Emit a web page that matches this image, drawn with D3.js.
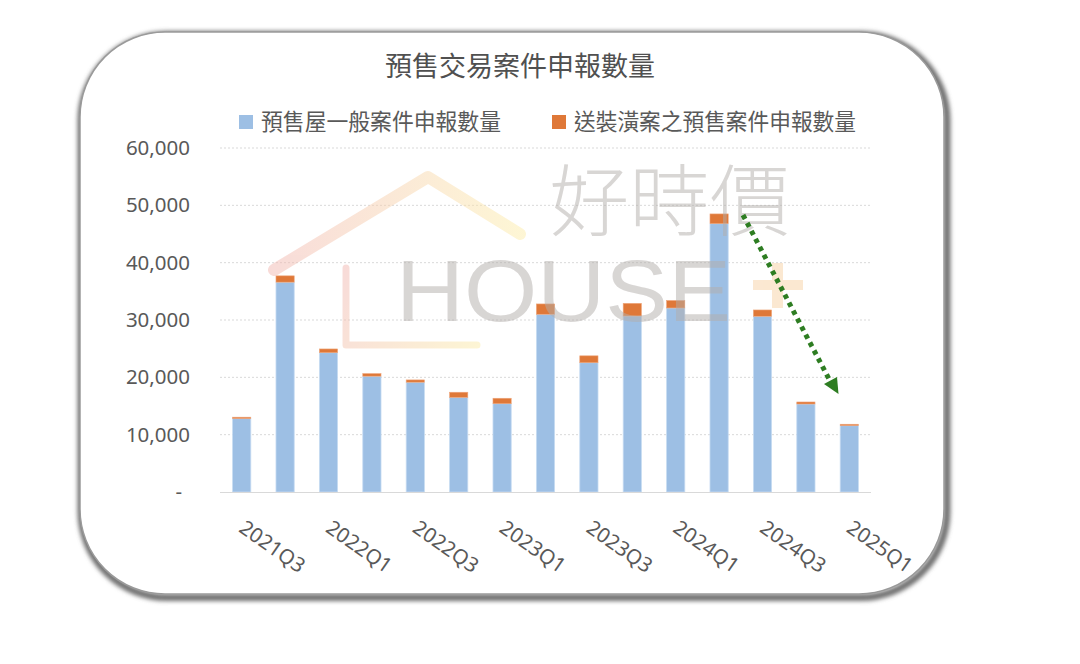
<!DOCTYPE html>
<html><head><meta charset="utf-8">
<script src="https://cdn.jsdelivr.net/npm/d3@7/dist/d3.min.js"></script>
<style>
html,body{margin:0;padding:0;background:#fff;}
svg{display:block;}
text{font-family:"Noto Sans","Noto Sans CJK TC",sans-serif;}
</style></head>
<body>
<svg id="chart" width="1080" height="664"></svg>
<script>
const categories = ["2021Q3","2021Q4","2022Q1","2022Q2","2022Q3","2022Q4","2023Q1","2023Q2","2023Q3","2023Q4","2024Q1","2024Q2","2024Q3","2024Q4","2025Q1"];
const generalCases = [12800, 36600, 24300, 20200, 19150, 16500, 15400, 31000, 22550, 30700, 32100, 46800, 30650, 15350, 11570];
const fitOutCases = [250, 1100, 650, 450, 400, 900, 950, 1800, 1200, 2200, 1300, 1700, 1100, 350, 250];
const yTicks = [0, 10000, 20000, 30000, 40000, 50000, 60000];
const xTickLabels = ["2021Q3","2022Q1","2022Q3","2023Q1","2023Q3","2024Q1","2024Q3","2025Q1"];
const seriesNames = ["預售屋一般案件申報數量", "送裝潢案之預售案件申報數量"];
const title = "預售交易案件申報數量";

const svg = d3.select("#chart");
const defs = svg.append("defs");

const f = defs.append("filter").attr("id","blur").attr("x","-10%").attr("y","-10%").attr("width","120%").attr("height","120%");
f.append("feGaussianBlur").attr("stdDeviation", 2.2);

// frame
svg.append("rect").attr("x",80).attr("y",33).attr("width",866).attr("height",563).attr("rx",86)
  .attr("fill","none").attr("stroke","#707070").attr("stroke-width",7).attr("filter","url(#blur)")
  .attr("transform","translate(1,1.5)");
svg.append("rect").attr("x",80).attr("y",32).attr("width",864).attr("height",562).attr("rx",85)
  .attr("fill","#fff").attr("stroke","#9a9a9a").attr("stroke-width",1.5);

const x = d3.scaleBand().domain(categories).range([220, 871]).paddingInner(0.58).paddingOuter(0.29);
const y = d3.scaleLinear().domain([0, 60000]).range([492, 148]);

// gridlines
svg.append("g").selectAll("line").data(yTicks.filter(d => d > 0)).join("line")
  .attr("x1",220).attr("x2",871).attr("y1",d=>y(d)).attr("y2",d=>y(d))
  .attr("stroke","#d9d9d9").attr("stroke-width",1).attr("stroke-dasharray","2,2");

// y axis
const yAxis = svg.append("g").attr("transform","translate(190,0)")
  .call(d3.axisLeft(y).tickValues(yTicks).tickSize(0).tickPadding(0)
    .tickFormat(d => d === 0 ? "-" : d3.format(",")(d)));
yAxis.select(".domain").remove();
yAxis.selectAll("text").attr("font-size",20.5).attr("fill","#595959")
  .style("font-family",'"Noto Sans",sans-serif')
  .attr("x", d => d === 0 ? -8 : 0);

// bars
const stackData = categories.map((c,i)=>({cat:c, a:generalCases[i], b:fitOutCases[i]}));
const gBars = svg.append("g");
gBars.selectAll("rect.a").data(stackData).join("rect").attr("class","a")
  .attr("x",d=>x(d.cat)).attr("width",x.bandwidth())
  .attr("y",d=>y(d.a)).attr("height",d=>y(0)-y(d.a))
  .attr("fill","#9dbfe4").attr("stroke","#c7dcf2").attr("stroke-width",0.8);
gBars.selectAll("rect.b").data(stackData).join("rect").attr("class","b")
  .attr("x",d=>x(d.cat)).attr("width",x.bandwidth())
  .attr("y",d=>y(d.a+d.b)).attr("height",d=>y(d.a)-y(d.a+d.b))
  .attr("fill","#df7838").attr("stroke","#eea57a").attr("stroke-width",0.6);

// x axis
const xAxis = svg.append("g").attr("transform","translate(0,492)")
  .call(d3.axisBottom(x).tickValues(xTickLabels).tickSize(0).tickPadding(0));
xAxis.select(".domain").attr("stroke","#d9d9d9").attr("stroke-width",1.2)
  .attr("d","M220,0.5H871");
xAxis.selectAll("text").attr("font-size",20.5).attr("fill","#595959")
  .attr("text-anchor","start").attr("dy",0)
  .attr("y",0).attr("x",0)
  .attr("transform","translate(-4,39) rotate(35)");

// watermark
const gradRoof = defs.append("linearGradient").attr("id","roofGrad").attr("gradientUnits","userSpaceOnUse")
  .attr("x1",270).attr("y1",0).attr("x2",520).attr("y2",0);
gradRoof.append("stop").attr("offset","0%").attr("stop-color","#f2b9b3");
gradRoof.append("stop").attr("offset","100%").attr("stop-color","#fcecaa");
const gradL = defs.append("linearGradient").attr("id","lGrad").attr("gradientUnits","userSpaceOnUse")
  .attr("x1",346).attr("y1",268).attr("x2",478).attr("y2",345);
gradL.append("stop").attr("offset","0%").attr("stop-color","#f2b9b3");
gradL.append("stop").attr("offset","100%").attr("stop-color","#fcecaa");

const wm = svg.append("g").attr("opacity",0.5);
wm.append("path").attr("d","M274,270 L428,177 L520,234")
  .attr("fill","none").attr("stroke","url(#roofGrad)").attr("stroke-width",12)
  .attr("stroke-linecap","round").attr("stroke-linejoin","round");
wm.append("path").attr("d","M346,268 L346,345 L477,345")
  .attr("fill","none").attr("stroke","url(#lGrad)").attr("stroke-width",7)
  .attr("stroke-linecap","round").attr("stroke-linejoin","round");
const wm2 = svg.append("g").attr("opacity",0.5);
wm2.append("text").attr("x",396).attr("y",321).attr("font-size",88)
  .attr("textLength",335).attr("lengthAdjust","spacingAndGlyphs")
  .style("font-family",'"Liberation Sans",sans-serif').style("font-weight",300)
  .attr("fill","#b3aeab").text("HOUSE");
wm2.append("text").attr("x",549).attr("y",230).attr("font-size",78)
  .attr("textLength",241).attr("lengthAdjust","spacingAndGlyphs")
  .style("font-family",'"Noto Sans CJK TC",sans-serif').style("font-weight",300)
  .attr("fill","#b3aeab").text("好時價");
const plus = svg.append("g").attr("opacity",0.55).attr("fill","#f8d6ad");
plus.append("rect").attr("x",753).attr("y",280).attr("width",50).attr("height",10);
plus.append("rect").attr("x",772).attr("y",263).attr("width",11).attr("height",45);

// green dotted arrow
svg.append("line").attr("x1",743).attr("y1",215).attr("x2",829).attr("y2",379)
  .attr("stroke","#2e7d22").attr("stroke-width",5).attr("stroke-dasharray","4.5,4.5");
svg.append("path").attr("d","M824,384 L837,377 L838.5,394 Z").attr("fill","#2e7d22");

// title
svg.append("text").attr("x",520).attr("y",76).attr("text-anchor","middle")
  .attr("font-size",27).attr("fill","#505050")
  .attr("textLength",270).attr("lengthAdjust","spacingAndGlyphs")
  .style("font-family",'"Noto Sans CJK TC",sans-serif').text(title);

// legend
const legendColors = ["#9dbfe4","#df7838"];
const legendX = [239, 552];
const legendLen = [240, 282];
const lg = svg.append("g");
seriesNames.forEach((n,i)=>{
  lg.append("rect").attr("x",legendX[i]).attr("y",115).attr("width",14).attr("height",14).attr("fill",legendColors[i]);
  lg.append("text").attr("x",legendX[i]+22).attr("y",130).attr("font-size",22.5).attr("fill","#595959")
    .attr("textLength",legendLen[i]).attr("lengthAdjust","spacingAndGlyphs")
    .style("font-family",'"Noto Sans CJK TC",sans-serif').text(n);
});
</script>
</body></html>
